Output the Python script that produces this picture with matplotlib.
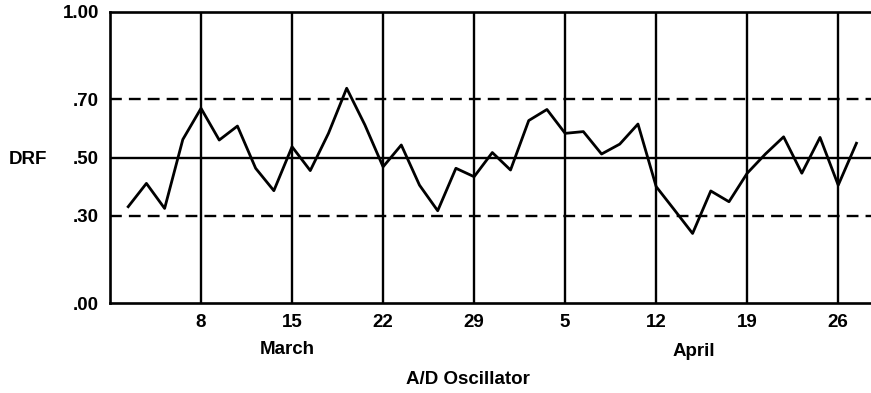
import numpy as np
import matplotlib
matplotlib.use("Agg")
import matplotlib.pyplot as plt

# A/D Oscillator DRF, one point per trading day (5 per week)
drf = [0.331, 0.411, 0.325, 0.562, 0.669, 0.560, 0.608, 0.463, 0.386, 0.537,
       0.455, 0.583, 0.738, 0.612, 0.468, 0.543, 0.405, 0.317, 0.463, 0.434,
       0.517, 0.457, 0.627, 0.665, 0.583, 0.589, 0.512, 0.546, 0.615, 0.400,
       0.320, 0.239, 0.385, 0.348, 0.446, 0.512, 0.571, 0.446, 0.569, 0.405,
       0.549]
tick_idx = [4, 9, 14, 19, 24, 29, 34, 39]
tick_labels = ["8", "15", "22", "29", "5", "12", "19", "26"]
ytick_vals = [0.0, 0.30, 0.50, 0.70, 1.00]
ytick_labels = [".00", ".30", ".50", ".70", "1.00"]

plt.rcParams['font.family'] = ['Liberation Sans', 'DejaVu Sans']
plt.rcParams['font.weight'] = 'bold'
fs = 13.5

fig = plt.figure(figsize=(8.71, 3.93), dpi=100)
ax = fig.add_axes([110/871, 90/393, 1 - 110/871, 291/393])

x = np.arange(len(drf))
ax.set_xlim(-1, 40.8)
ax.set_ylim(0, 1)

for t in tick_idx:
    ax.axvline(t, color="black", lw=1.7, zorder=1)
ax.axhline(0.5, color="black", lw=1.7, zorder=1)
ax.axhline(0.3, color="black", lw=1.7, ls=(0, (5, 3)), zorder=1)
ax.axhline(0.7, color="black", lw=1.7, ls=(0, (5, 3)), zorder=1)

ax.plot(x, drf, color="black", lw=2.0, zorder=3)

ax.set_xticks(tick_idx)
ax.set_xticklabels(tick_labels, fontsize=fs, fontweight="bold")
ax.set_yticks(ytick_vals)
ax.set_yticklabels(ytick_labels, fontsize=fs, fontweight="bold")
ax.tick_params(axis="x", length=0, pad=8)
ax.tick_params(axis="y", length=0, pad=8)

for s in ["left", "bottom", "top"]:
    ax.spines[s].set_linewidth(1.9)
ax.spines["right"].set_visible(False)

fig.text(28/871, 1 - 160/393, "DRF", fontsize=fs, fontweight="bold", ha="center", va="center")
fig.text(287/871, 1 - 350/393, "March", fontsize=fs, fontweight="bold", ha="center", va="center")
fig.text(694/871, 1 - 351/393, "April", fontsize=fs, fontweight="bold", ha="center", va="center")
fig.text(468/871, 1 - 380/393, "A/D Oscillator", fontsize=fs, fontweight="bold", ha="center", va="center")

fig.savefig("out.png", dpi=100)
